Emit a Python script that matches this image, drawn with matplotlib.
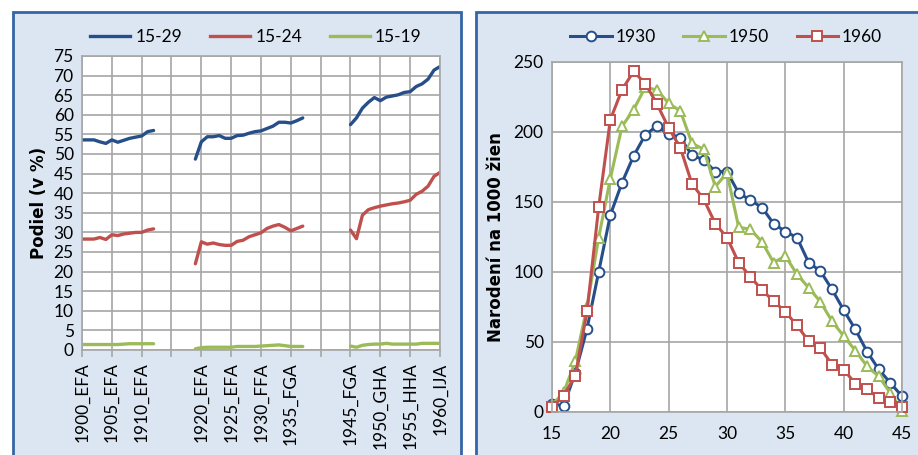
import matplotlib.pyplot as plt
from matplotlib.patches import Rectangle

plt.rcParams['font.family'] = ['Lato', 'DejaVu Sans']

# Left chart: share (%) by period, three separate periods
yrs_a = list(range(1900, 1913))
yrs_b = list(range(1919, 1938))
yrs_c = list(range(1945, 1961))

p29_a = [53.6, 53.6, 53.6, 53.1, 52.7, 53.6, 53.0, 53.5, 54.0, 54.3, 54.6, 55.7, 56.0]
p29_b = [48.7, 53.1, 54.4, 54.4, 54.7, 54.0, 54.0, 54.7, 54.8, 55.3, 55.7, 55.9,
         56.5, 57.1, 58.1, 58.1, 57.9, 58.5, 59.2]
p29_c = [57.5, 59.2, 61.7, 63.2, 64.4, 63.6, 64.5, 64.8, 65.1, 65.7, 65.9, 67.2,
         67.9, 69.1, 71.4, 72.3]

p24_a = [28.3, 28.3, 28.3, 28.7, 28.2, 29.4, 29.2, 29.6, 29.8, 30.0, 30.0, 30.6, 30.9]
p24_b = [22.0, 27.6, 27.0, 27.3, 26.9, 26.7, 26.7, 27.7, 28.0, 28.9, 29.4, 29.9,
         31.0, 31.6, 32.0, 31.3, 30.4, 31.0, 31.6]
p24_c = [30.6, 28.4, 34.4, 35.8, 36.3, 36.7, 37.0, 37.3, 37.5, 37.8, 38.2, 39.7,
         40.5, 41.8, 44.3, 45.3]

p19_a = [1.4, 1.4, 1.4, 1.4, 1.4, 1.4, 1.4, 1.5, 1.6, 1.6, 1.6, 1.6, 1.6]
p19_b = [0.3, 0.6, 0.7, 0.7, 0.7, 0.7, 0.7, 0.9, 0.9, 0.9, 0.9, 1.0, 1.1, 1.2,
         1.3, 1.1, 0.9, 0.9, 0.9]
p19_c = [1.0, 0.7, 1.2, 1.4, 1.5, 1.5, 1.7, 1.5, 1.5, 1.5, 1.5, 1.5, 1.7, 1.7, 1.7, 1.7]

tick_years = list(range(1900, 1961, 5))
tick_labels = ["1900_EFA", "1905_EFA", "1910_EFA", "", "1920_EFA", "1925_EFA",
               "1930_FFA", "1935_FGA", "", "1945_FGA", "1950_GHA", "1955_HHA", "1960_IJA"]

# Right chart: births per 1000 women by age
ages = list(range(15, 46))
r1930 = [5.7, 4.5, 28, 59.4, 100, 140.7, 163.8, 183, 198, 204.3, 198.3, 196, 183.3,
         180.2, 171.7, 171.7, 156.4, 151.4, 146, 134.5, 128.9, 124.6, 106.7, 100.7,
         87.6, 72.8, 59, 43.2, 30.5, 20.8, 11.2]
r1950 = [5, 14, 36.3, 75, 124.6, 166.7, 204, 216, 232, 230, 220.5, 215, 192, 187.6,
         161, 170.7, 132, 130.5, 121.5, 106.7, 111.5, 98.3, 88.8, 78.8, 64.9, 54.2,
         43.9, 32.7, 25.5, 13.6, 1]
r1960 = [3.3, 11.7, 26, 71.8, 146.2, 208.8, 230.2, 243.3, 234.5, 220, 202.9, 188.8,
         162.9, 152.1, 134.5, 124.6, 106.7, 96.7, 87.1, 79.2, 71.6, 61.8, 50.6, 45.8,
         33.9, 30.3, 20.3, 16.5, 10, 6.9, 3.3]

BLUE = "#264f8a"
RED = "#c0504d"
GREEN = "#9bbb59"
GRID = "#a6a6a6"
PANEL = "#dce6f2"
BORDER = "#3465a4"

W, H = 918, 455
fig = plt.figure(figsize=(W / 100, H / 100), dpi=100)


def box(x0, y0, x1, y1):
    return [x0 / W, 1 - y1 / H, (x1 - x0) / W, (y1 - y0) / H]


# panel backgrounds
for x0, x1 in [(13, 461), (476, 930)]:
    fig.patches.append(Rectangle((x0 / W, -0.1), (x1 - x0) / W, 1 + 0.1 - 12 / H,
                                 transform=fig.transFigure, facecolor=PANEL,
                                 edgecolor=BORDER, lw=2, zorder=-5))


def style_axes(ax):
    ax.set_facecolor("white")
    for s in ax.spines.values():
        s.set_color(GRID)
        s.set_linewidth(1.2)
    ax.grid(True, color=GRID, lw=1.2)
    ax.set_axisbelow(True)
    ax.tick_params(colors="black", labelsize=12.5)
    ax.tick_params(axis="both", color=GRID, width=1.2)


# left chart
ax1 = fig.add_axes(box(82, 56, 440, 350))
style_axes(ax1)
lw = 2.4
for xs, ys in [(yrs_a, p29_a), (yrs_b, p29_b), (yrs_c, p29_c)]:
    ax1.plot(xs, ys, color=BLUE, lw=lw, solid_capstyle="round")
for xs, ys in [(yrs_a, p24_a), (yrs_b, p24_b), (yrs_c, p24_c)]:
    ax1.plot(xs, ys, color=RED, lw=lw, solid_capstyle="round")
for xs, ys in [(yrs_a, p19_a), (yrs_b, p19_b), (yrs_c, p19_c)]:
    ax1.plot(xs, ys, color=GREEN, lw=lw, solid_capstyle="round")
ax1.set_xlim(1900, 1960)
ax1.set_ylim(0, 75)
ax1.set_yticks(range(0, 76, 5))
ax1.set_xticks(tick_years)
ax1.set_xticklabels(tick_labels, rotation=90)
ax1.tick_params(axis="x", length=5, direction="out", pad=4)
ax1.tick_params(axis="y", length=0, pad=6)
ax1.set_ylabel("Podiel (v %)", fontsize=12, fontweight="bold",
               family="DejaVu Sans", labelpad=4)
h1 = [plt.Line2D([], [], color=c, lw=lw) for c in (BLUE, RED, GREEN)]
fig.legend(h1, ["15-29", "15-24", "15-19"], loc="center",
           bbox_to_anchor=(256 / W, 1 - 37 / H), ncol=3, frameon=False,
           fontsize=12.5, handlelength=2.3, handletextpad=0.3, columnspacing=1.6)

# right chart
ax2 = fig.add_axes(box(552, 62, 902, 412))
style_axes(ax2)
mk = dict(markersize=7, markerfacecolor="white", markeredgewidth=1.4, lw=2.2,
          clip_on=False)
ax2.plot(ages, r1930, color=BLUE, marker="o", label="1930", **mk)
ax2.plot(ages, r1950, color=GREEN, marker="^", label="1950", **mk)
ax2.plot(ages, r1960, color=RED, marker="s", label="1960", **mk)
ax2.set_xlim(15, 45)
ax2.set_ylim(0, 250)
ax2.set_xticks(range(15, 46, 5))
ax2.set_yticks(range(0, 251, 50))
ax2.tick_params(axis="x", length=0, pad=10)
ax2.tick_params(axis="y", length=0, pad=6)
ax2.set_ylabel("Narodení na 1000 žien", fontsize=12, fontweight="bold",
               family="DejaVu Sans", labelpad=6)
h2, l2 = ax2.get_legend_handles_labels()
fig.legend(h2, l2, loc="center", bbox_to_anchor=(726 / W, 1 - 37 / H), ncol=3,
           frameon=False, fontsize=12.5, handlelength=2.4, handletextpad=0.2,
           columnspacing=1.6)

fig.savefig("out.png", dpi=100)
